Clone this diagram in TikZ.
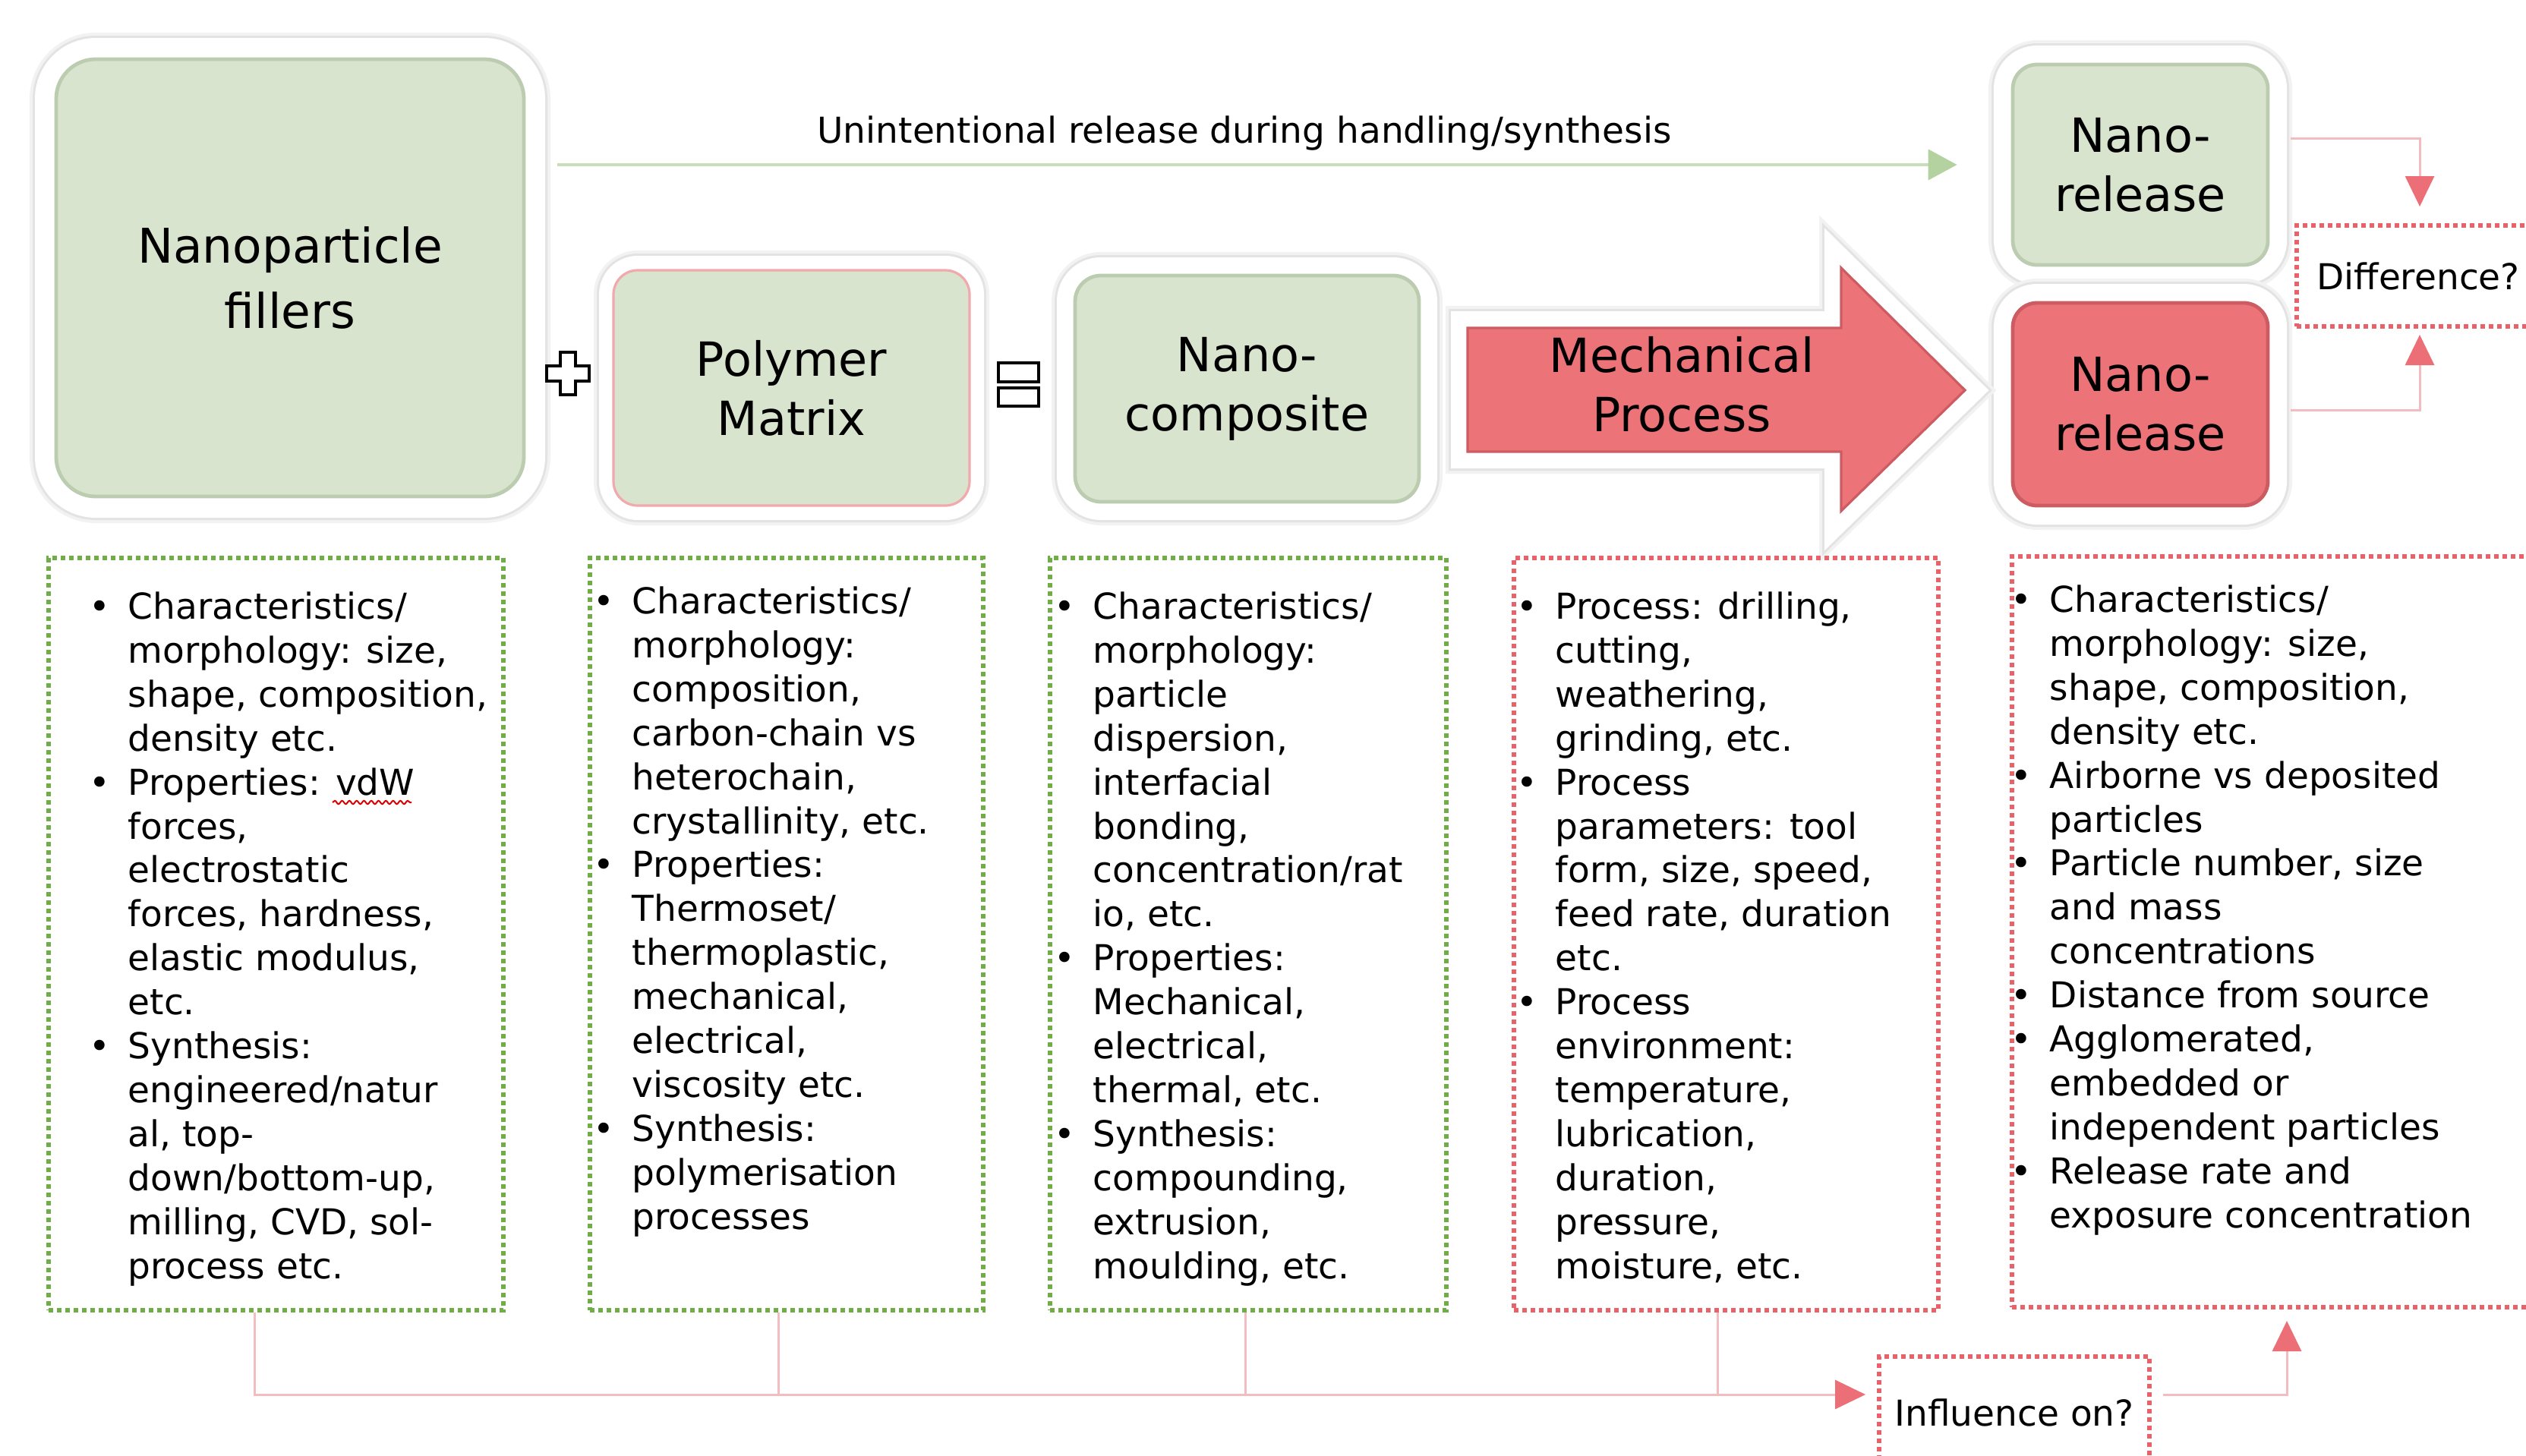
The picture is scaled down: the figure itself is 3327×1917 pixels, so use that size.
\documentclass[tikz,border=0pt]{standalone}
\usepackage{fontspec}
\setmainfont{DejaVu Sans}
\usetikzlibrary{arrows.meta,decorations.pathmorphing}
\definecolor{gfill}{RGB}{216,228,205}
\definecolor{gedge}{RGB}{188,204,176}
\definecolor{rfill}{RGB}{236,116,121}
\definecolor{redge}{RGB}{205,92,98}
\definecolor{gdot}{RGB}{112,173,71}
\definecolor{rdot}{RGB}{232,98,106}
\definecolor{gline}{RGB}{200,222,185}
\definecolor{ghead}{RGB}{180,210,160}
\definecolor{pline}{RGB}{242,188,192}
\definecolor{rhead}{RGB}{236,110,118}
\newcommand\itembul{\llap{\textbullet\hspace{6pt}}}
\begin{document}
\begin{tikzpicture}[x=0.25pt,y=-0.25pt,
  bodyfont/.style={font=\fontsize{11.75pt}{14.475pt}\selectfont},
  titlefont/.style={font=\fontsize{15.5pt}{19.5pt}\selectfont},
  glow/.style={preaction={draw=black!5,line width=#1+3.5pt},
               preaction={draw=black!11,line width=#1+1.5pt},
               preaction={draw=white,line width=#1}},
  greenbox/.style={fill=gfill,draw=gedge,line width=1.2pt,titlefont,align=center,inner sep=0pt},
  redbox/.style={fill=rfill,draw=redge,line width=1.2pt,titlefont,align=center,inner sep=0pt},
  gdotbox/.style={draw=gdot,line width=1.5pt,dash pattern=on 1.4pt off 1.35pt,inner sep=0pt},
  rdotbox/.style={draw=rdot,line width=1.5pt,dash pattern=on 1.4pt off 1.35pt,inner sep=0pt,bodyfont},
  bodytext/.style={bodyfont,align=left,anchor=north west,inner sep=0pt},
  pinkline/.style={draw=pline,line width=0.75pt},
  pinkarrow/.style={pinkline,-{Triangle[length=10pt,width=9.5pt,color=rhead,fill=rhead]}},
  symb/.style={draw=black,fill=white,line width=0.8pt,line join=miter}
]
\path[use as bounding box,fill=white] (0,0) rectangle (3327,1917);
\clip (0,0) rectangle (3327,1917);

% ---------- top row boxes ----------
\node[greenbox,glow=14pt,rounded corners=13pt,minimum width=154pt,minimum height=144pt,
      font=\fontsize{15.75pt}{21.5pt}\selectfont] (np) at (382,366) {Nanoparticle\\fillers};
\node[greenbox,glow=9.5pt,rounded corners=8pt,draw=rdot!55,line width=0.8pt,
      minimum width=117.25pt,minimum height=77.5pt] (pm) at (1042.5,511) {Polymer\\Matrix};
\node[greenbox,glow=12pt,rounded corners=8.5pt,minimum width=113.25pt,minimum height=74.5pt] (nc) at (1642.5,512) {Nano-\\composite};
\node[greenbox,glow=12.5pt,rounded corners=8pt,minimum width=84pt,minimum height=66pt] (nrt) at (2819,217) {Nano-\\release};
\node[redbox,glow=12.5pt,rounded corners=8pt,minimum width=84pt,minimum height=66.75pt] (nrb) at (2819,532.5) {Nano-\\release};

% plus sign
\begin{scope}[shift={(748,492)}]
\path[symb] (-10,-28) -- (10,-28) -- (10,-10) -- (28,-10) -- (28,10) -- (10,10) -- (10,28)
  -- (-10,28) -- (-10,10) -- (-28,10) -- (-28,-10) -- (-10,-10) -- cycle;
\end{scope}
% equals sign
\path[symb] (1315,478) rectangle (1368,503);
\path[symb] (1315,511) rectangle (1368,535);

% mechanical process arrow
\path[fill=rfill,draw=redge,line width=0.8pt,line join=miter,
      preaction={draw=black!5,line width=14.5pt,line join=miter},
      preaction={draw=black!11,line width=12.5pt,line join=miter},
      preaction={draw=white,line width=11pt,line join=miter}]
  (1933,432) -- (2425,432) -- (2425,353) -- (2588,514) -- (2425,673) -- (2425,595) -- (1933,595) -- cycle;
\node[titlefont,align=center,inner sep=0pt] (mech) at (2215,506) {Mechanical\\Process};

% difference box
\node[rdotbox,minimum width=80pt,minimum height=33.25pt] (diff) at (3185,363.5) {Difference?};
\coordinate (dx) at (3187,0);

% unintentional release arrow
\node[bodyfont,inner sep=0pt] (ulabel) at (1639,176) {Unintentional release during handling/synthesis};
\draw[gline,line width=1pt,-{Triangle[length=9.5pt,width=10pt,color=ghead,fill=ghead]},
      shorten <=10.5pt,shorten >=17.75pt] (np.east |- nrt.west) -- (nrt.west);

% difference connectors
\draw[pinkarrow,shorten <=7pt,shorten >=5.5pt] ([yshift=8.75pt]nrt.east) -| (diff.north -| dx);
\draw[pinkarrow,shorten <=7pt,shorten >=2pt] ([yshift=-1.9pt]nrb.east) -| (diff.south -| dx);

% ---------- bottom row boxes ----------
\node[gdotbox,minimum width=149.75pt,minimum height=247.75pt] (b1) at (363.5,1230.5) {};
\node[gdotbox,minimum width=129.5pt,minimum height=247.75pt] (b2) at (1036,1230.5) {};
\node[gdotbox,minimum width=130.5pt,minimum height=247.75pt] (b3) at (1644,1230.5) {};
\node[rdotbox,minimum width=139.75pt,minimum height=247.75pt] (b4) at (2273.5,1230.5) {};
\node[rdotbox,minimum width=173.75pt,minimum height=247.25pt] (b5) at (2997.5,1227.5) {};

\node[bodytext] (t1) at (168,779) {\itembul Characteristics/\\morphology: size,\\shape, composition,\\density etc.\\
\itembul Properties: vdW\\forces,\\electrostatic\\forces, hardness,\\elastic modulus,\\etc.\\
\itembul Synthesis:\\engineered/natur\\al, top-\\down/bottom-up,\\milling, CVD, sol-\\process etc.};
\draw[red!85!black,line width=0.5pt,decorate,decoration={snake,amplitude=0.55pt,segment length=2.4pt}] (438,1057) -- (542,1057);

\node[bodytext] (t2) at (832,772) {\itembul Characteristics/\\morphology:\\composition,\\carbon-chain vs\\heterochain,\\crystallinity, etc.\\
\itembul Properties:\\Thermoset/\\thermoplastic,\\mechanical,\\electrical,\\viscosity etc.\\
\itembul Synthesis:\\polymerisation\\processes};

\node[bodytext] (t3) at (1439,779) {\itembul Characteristics/\\morphology:\\particle\\dispersion,\\interfacial\\bonding,\\concentration/rat\\io, etc.\\
\itembul Properties:\\Mechanical,\\electrical,\\thermal, etc.\\
\itembul Synthesis:\\compounding,\\extrusion,\\moulding, etc.};

\node[bodytext] (t4) at (2048,779) {\itembul Process: drilling,\\cutting,\\weathering,\\grinding, etc.\\
\itembul Process\\parameters: tool\\form, size, speed,\\feed rate, duration\\etc.\\
\itembul Process\\environment:\\temperature,\\lubrication,\\duration,\\pressure,\\moisture, etc.};

\node[bodytext] (t5) at (2699,770) {\itembul Characteristics/\\morphology: size,\\shape, composition,\\density etc.\\
\itembul Airborne vs deposited\\particles\\
\itembul Particle number, size\\and mass\\concentrations\\
\itembul Distance from source\\
\itembul Agglomerated,\\embedded or\\independent particles\\
\itembul Release rate and\\exposure concentration};

% influence box and connectors
\node[rdotbox,minimum width=89pt,minimum height=37pt] (infl) at (2653,1861) {Influence on?};
\coordinate (lv) at (0,1837);
\coordinate (ux) at (3012,0);
\draw[pinkarrow,shorten >=3.75pt] ([xshift=-7pt]b1.south) |- (infl.west |- lv);
\draw[pinkline] ([xshift=-2.75pt]b2.south) -- ([xshift=-2.75pt]b2.south |- lv);
\draw[pinkline] ([xshift=-1pt]b3.south) -- ([xshift=-1pt]b3.south |- lv);
\draw[pinkline] ([xshift=-2.75pt]b4.south) -- ([xshift=-2.75pt]b4.south |- lv);
\draw[pinkarrow,shorten <=3.75pt,shorten >=3.75pt] (infl.east |- lv) -| (b5.south -| ux);
\end{tikzpicture}
\end{document}
